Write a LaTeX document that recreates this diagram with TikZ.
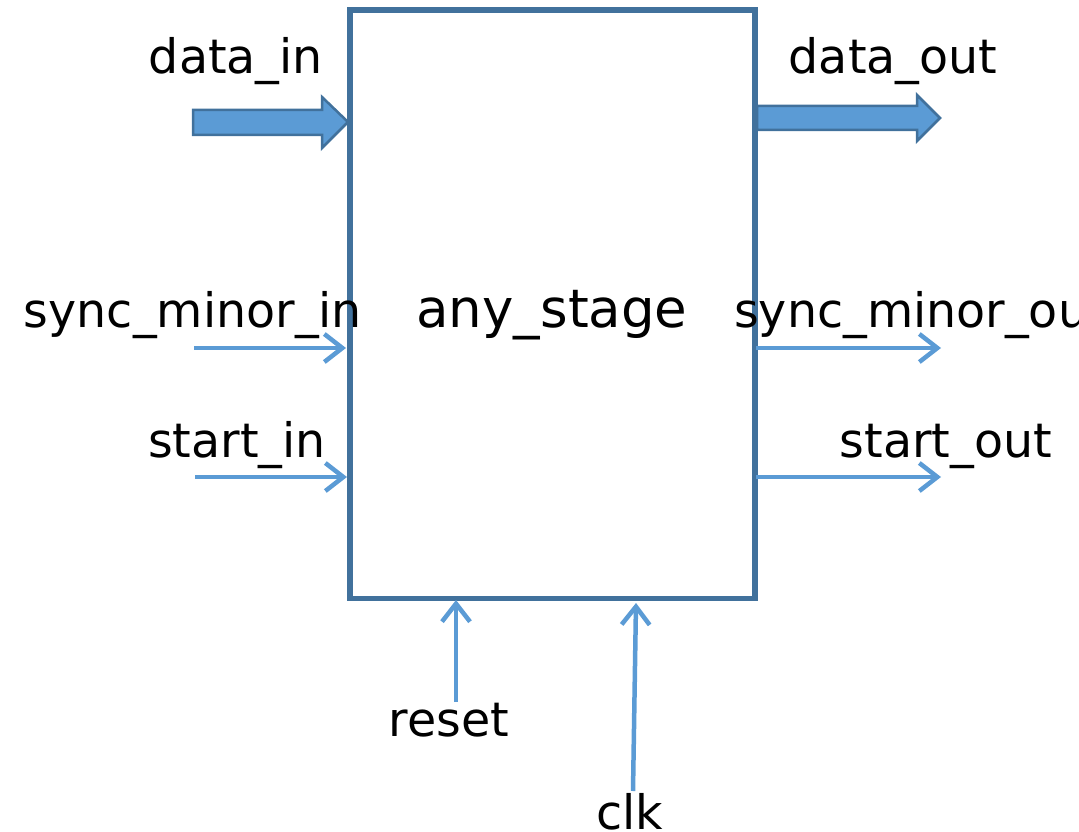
\documentclass[tikz,border=0pt]{standalone}
\usepackage{fontspec}
\setmainfont{DejaVu Sans}
\usetikzlibrary{arrows.meta}
\definecolor{boxblue}{HTML}{41719C}
\definecolor{arrblue}{HTML}{5B9BD5}
\tikzset{
  lbl/.style={anchor=base, inner sep=0pt, font=\fontsize{47.5}{56}\selectfont},
  sig/.style={draw=arrblue, line width=4.5pt, -{Straight Barb[length=18pt,width=28pt,line width=4.5pt]}},
  blockarrow/.style={fill=arrblue, draw=boxblue, line width=2.5pt, line join=miter},
}
\begin{document}
\begin{tikzpicture}[x=1pt,y=-1pt]
\useasboundingbox (0,0) rectangle (1079,832);
\node[draw=boxblue, line width=5.5pt, minimum width=405pt, minimum height=588pt, inner sep=0pt, anchor=north west] (box) at (347,7.5) {};
\node[lbl, font=\fontsize{53}{62}\selectfont] (title) at (552,327) {any\_stage};

% block arrows
\draw[blockarrow] (193,110) -- (322,110) -- (322,97) -- (348,122) -- (322,148) -- (322,135) -- (193,135) -- cycle;
\draw[blockarrow] (757,106) -- (917,106) -- (917,95) -- (940,118) -- (917,141) -- (917,130) -- (757,130) -- cycle;

% labels
\node[lbl] (din) at (236,74) {data\_in};
\node[lbl] (dout) at (893,74) {data\_out};
\node[lbl] (smi) at (193,327) {sync\_minor\_in};
\node[lbl, anchor=base west] (smo) at (734,327) {sync\_minor\_out};
\node[lbl] (si) at (237,457) {start\_in};
\node[lbl] (so) at (946,457) {start\_out};
\node[lbl] (rst) at (449,736) {reset};
\node[lbl] (clk) at (630,829) {clk};

% signal arrows
\coordinate (smiA) at (194,348); \coordinate (smiB) at (346,348);
\coordinate (siA) at (195,477); \coordinate (siB) at (347,477);
\coordinate (smoA) at (756,348); \coordinate (smoB) at (941,348);
\coordinate (soA) at (756,477); \coordinate (soB) at (941,477);
\coordinate (rstA) at (456,702); \coordinate (rstB) at (456,600);
\coordinate (clkA) at (633,791); \coordinate (clkB) at (636,603);
\draw[sig] (smiA) -- (smiB);
\draw[sig] (siA) -- (siB);
\draw[sig] (smoA) -- (smoB);
\draw[sig] (soA) -- (soB);
\draw[sig] (rstA) -- (rstB);
\draw[sig] (clkA) -- (clkB);
\end{tikzpicture}
\end{document}
